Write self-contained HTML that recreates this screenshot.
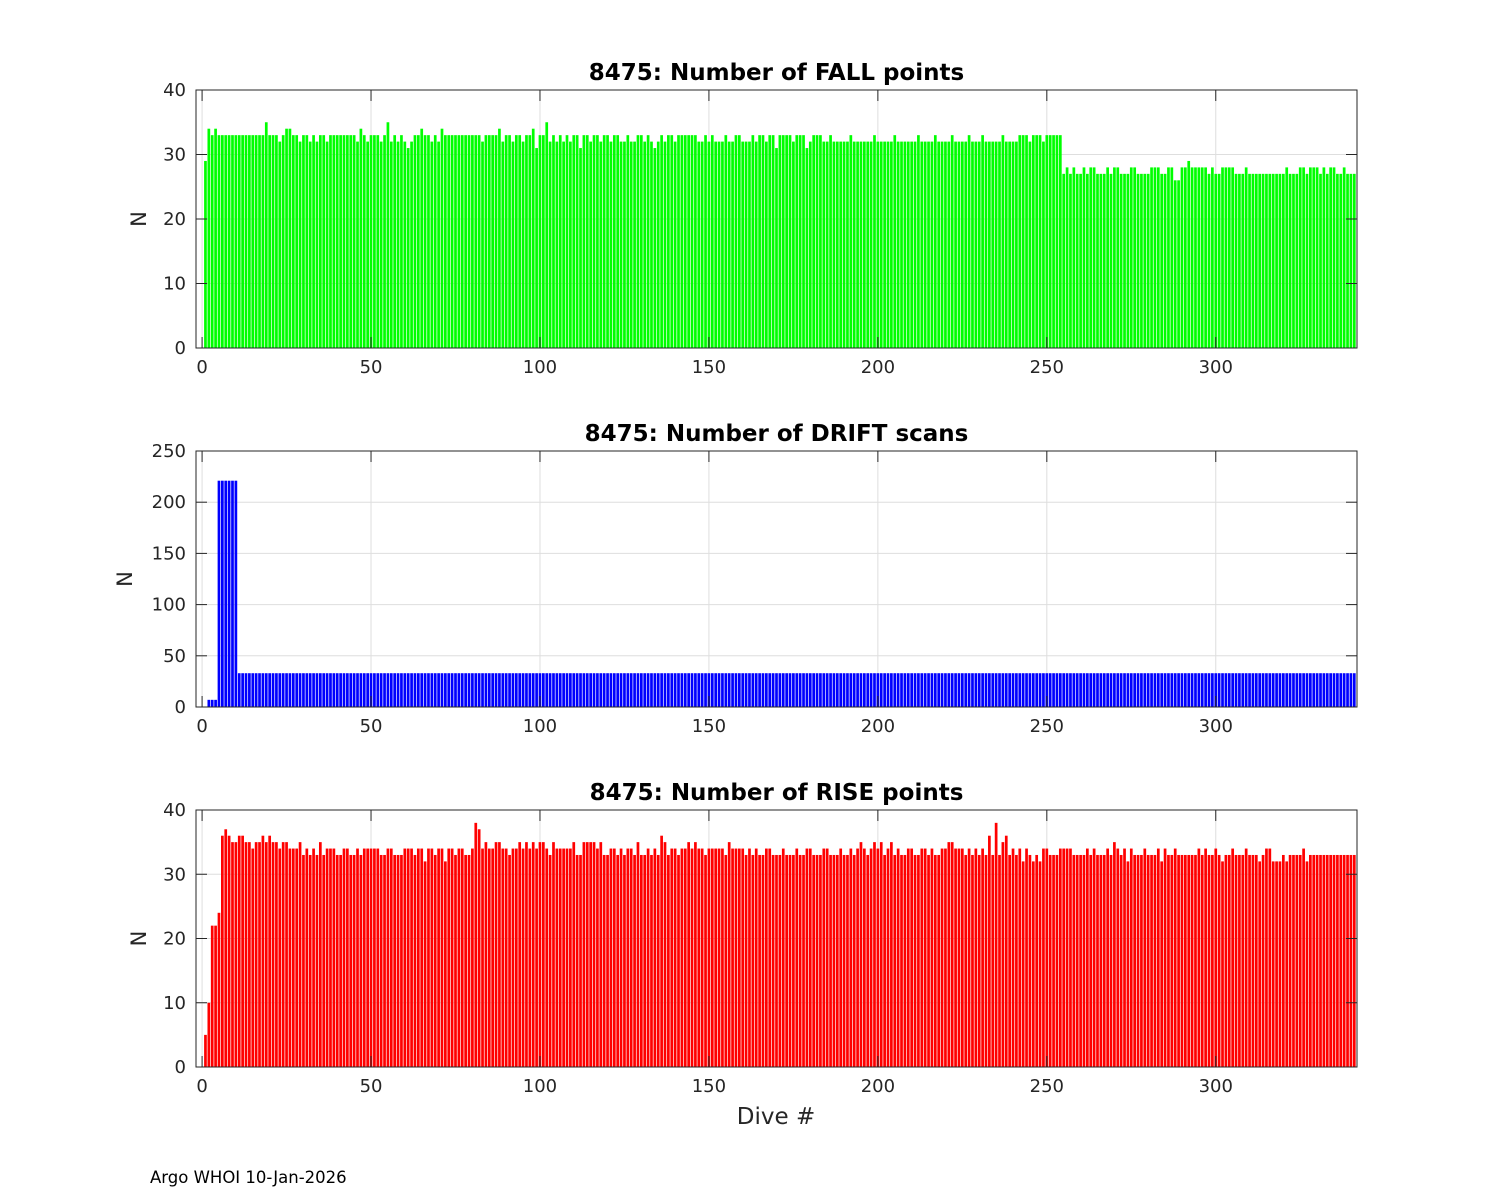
<!DOCTYPE html>
<html><head><meta charset="utf-8"><style>
body{margin:0;background:#fff;}
svg{display:block;font-family:"DejaVu Sans","Liberation Sans",sans-serif;}
</style></head><body>
<svg id="chart" width="1500" height="1200"></svg>
<script>
const fallValues=[29,34,33,34,33,33,33,33,33,33,33,33,33,33,33,33,33,33,35,33,
33,33,32,33,34,34,33,33,32,33,33,32,33,32,33,33,32,33,33,33,
33,33,33,33,33,32,34,33,32,33,33,33,32,33,35,32,33,32,33,32,
31,32,33,33,34,33,33,32,33,32,34,33,33,33,33,33,33,33,33,33,
33,33,32,33,33,33,33,34,32,33,33,32,33,33,32,33,33,34,31,33,
33,35,32,33,32,33,32,33,32,33,33,31,33,33,32,33,33,32,33,33,
32,33,33,32,32,33,32,32,33,33,32,33,32,31,32,33,32,33,33,32,
33,33,33,33,33,33,32,32,33,32,33,32,32,32,33,32,32,33,33,32,
32,32,33,32,33,33,32,33,33,31,33,33,33,33,32,33,33,33,31,32,
33,33,33,32,32,33,32,32,32,32,32,33,32,32,32,32,32,32,33,32,
32,32,32,32,33,32,32,32,32,32,32,33,32,32,32,32,33,32,32,32,
32,33,32,32,32,32,33,32,32,32,33,32,32,32,32,32,33,32,32,32,
32,33,33,33,32,33,33,33,32,33,33,33,33,33,
27,28,27,28,27,27,28,27,28,28,
27,27,27,28,27,28,28,27,27,27,
28,28,27,27,27,27,28,28,28,27,
27,28,28,26,26,28,28,29,28,28,
28,28,28,27,28,27,27,28,28,28,
28,27,27,27,28,27,27,27,27,27,
27,27,27,27,27,27,28,27,27,27,
28,28,27,28,28,28,27,28,27,28,
28,27,27,28,27,27,27];
const driftValues=[0,7,7,7,221,221,221,221,221,221,
33,33,33,33,33,33,33,33,33,33,33,33,33,33,33,33,33,33,33,33,33,33,33,33,33,33,33,33,33,33,
33,33,33,33,33,33,33,33,33,33,33,33,33,33,33,33,33,33,33,33,33,33,33,33,33,33,33,33,33,33,
33,33,33,33,33,33,33,33,33,33,33,33,33,33,33,33,33,33,33,33,33,33,33,33,33,33,33,33,33,33,
33,33,33,33,33,33,33,33,33,33,33,33,33,33,33,33,33,33,33,33,33,33,33,33,33,33,33,33,33,33,
33,33,33,33,33,33,33,33,33,33,33,33,33,33,33,33,33,33,33,33,33,33,33,33,33,33,33,33,33,33,
33,33,33,33,33,33,33,33,33,33,33,33,33,33,33,33,33,33,33,33,33,33,33,33,33,33,33,33,33,33,
33,33,33,33,33,33,33,33,33,33,33,33,33,33,33,33,33,33,33,33,33,33,33,33,33,33,33,33,33,33,
33,33,33,33,33,33,33,33,33,33,33,33,33,33,33,33,33,33,33,33,33,33,33,33,33,33,33,33,33,33,
33,33,33,33,33,33,33,33,33,33,33,33,33,33,33,33,33,33,33,33,33,33,33,33,33,33,33,33,33,33,
33,33,33,33,33,33,33,33,33,33,33,33,33,33,33,33,33,33,33,33,33,33,33,33,33,33,33,33,33,33,
33,33,33,33,33,33,33,33,33,33,33,33,33,33,33,33,33,33,33,33,33,33,33,33,33,33,33,33,33,33,
33];
const riseValues=[5,10,22,22,24,36,37,36,35,35,
36,36,35,35,34,35,35,36,35,36,35,35,34,35,35,34,34,34,35,33,
34,33,34,33,35,33,34,34,34,33,33,34,34,33,33,34,33,34,34,34,
34,34,33,33,34,34,33,33,33,34,34,34,33,34,34,32,34,34,33,34,
34,32,34,34,33,34,34,33,33,34,38,37,34,35,34,34,35,35,34,34,
33,34,34,35,34,35,34,35,34,35,35,34,33,35,34,34,34,34,34,35,
33,33,35,35,35,35,34,35,33,33,34,34,33,34,33,34,34,33,35,33,
33,34,33,34,33,36,35,33,34,34,33,34,34,35,34,35,34,34,33,34,
34,34,34,34,33,35,34,34,34,34,33,34,33,34,33,33,34,34,33,33,
33,34,33,33,33,34,33,33,34,34,33,33,33,34,34,33,33,33,34,33,
33,34,33,34,35,34,33,34,35,34,
35,33,34,35,33,34,33,33,34,34,33,33,34,34,33,34,33,33,34,34,
35,35,34,34,34,33,34,33,34,33,34,33,36,33,38,33,35,36,33,34,
33,34,32,34,33,32,33,32,34,34,33,33,33,34,34,34,34,33,33,33,
33,34,33,34,33,33,33,34,33,35,34,33,34,32,34,33,33,33,34,33,
33,33,34,32,34,33,33,34,33,33,33,33,33,33,34,33,34,33,33,34,
33,32,33,33,34,33,33,33,34,33,33,33,32,33,34,34,32,32,32,33,
32,33,33,33,33,34,32,33,33,33,33,33,33,33,33,33,33,33,33,33,33];
const xTicks=[0,50,100,150,200,250,300];
const fallYTicks=[0,10,20,30,40];
const driftYTicks=[0,50,100,150,200,250];
const riseYTicks=[0,10,20,30,40];

const NS="http://www.w3.org/2000/svg";
const svg=document.getElementById('chart');
function mk(tag,attrs,parent){const e=document.createElementNS(NS,tag);for(const k in attrs)e.setAttribute(k,attrs[k]);(parent||svg).appendChild(e);return e;}
const L=196,R=1357,XMIN=-1.8,XMAX=341.8;
const xs=v=>L+(v-XMIN)/(XMAX-XMIN)*(R-L);

function panel(name,top,bottom,ymax,yticks,values,color,title){
  const g=mk('g',{});
  
  
  const ys=v=>bottom-v/ymax*(bottom-top);
  mk('rect',{x:L,y:top,width:R-L,height:bottom-top,fill:'#fff'},g);
  xTicks.forEach(t=>{const l=mk('line',{x1:xs(t),x2:xs(t),y1:top,y2:bottom,stroke:'#dedede','stroke-width':1},g);
    });
  yticks.forEach(t=>{const l=mk('line',{x1:L,x2:R,y1:ys(t),y2:ys(t),stroke:'#dedede','stroke-width':1},g);
    });
  const bw=0.8*(R-L)/(XMAX-XMIN);
  values.forEach((v,i)=>{const x=i+1;
    const b=mk('rect',{x:xs(x)-bw/2,y:ys(v),width:bw,height:Math.max(0,bottom-ys(v)),fill:color},g);
    
    });
  mk('rect',{x:L,y:top,width:R-L,height:bottom-top,fill:'none',stroke:'#262626','stroke-width':1},g);
  xTicks.forEach(t=>{mk('line',{x1:xs(t),x2:xs(t),y1:bottom,y2:bottom-11,stroke:'#262626'},g);
    mk('line',{x1:xs(t),x2:xs(t),y1:top,y2:top+11,stroke:'#262626'},g);
    const tx=mk('text',{x:xs(t),y:bottom+25,'text-anchor':'middle','font-size':18,fill:'#262626'},g);tx.textContent=t;
    });
  yticks.forEach(t=>{mk('line',{x1:L,x2:L+11,y1:ys(t),y2:ys(t),stroke:'#262626'},g);
    mk('line',{x1:R,x2:R-11,y1:ys(t),y2:ys(t),stroke:'#262626'},g);
    const tx=mk('text',{x:L-10,y:ys(t)+6,'text-anchor':'end','font-size':18,fill:'#262626'},g);tx.textContent=t;
    });
  const tt=mk('text',{x:(L+R)/2,y:top-10,'text-anchor':'middle','font-size':23,'font-weight':'bold',fill:'#000'},g);tt.textContent=title;
  
  const lx=ymax>100?132:146, cy=(top+bottom)/2;
  const yl=mk('text',{x:lx,y:cy,'text-anchor':'middle','font-size':21,fill:'#262626',transform:`rotate(-90 ${lx} ${cy})`},g);yl.textContent='N';
  
}
panel('fall',90,348,40,fallYTicks,fallValues,'#00ff00','8475: Number of FALL points');
panel('drift',451,707,250,driftYTicks,driftValues,'#0000ff','8475: Number of DRIFT scans');
panel('rise',810,1067,40,riseYTicks,riseValues,'#ff0000','8475: Number of RISE points');
const xl=mk('text',{x:776,y:1124,'text-anchor':'middle','font-size':23,fill:'#262626'});xl.textContent='Dive #';


const ft=mk('text',{x:150,y:1183,'font-size':16.5,fill:'#000'});ft.textContent='Argo WHOI 10-Jan-2026';


</script>
</body></html>
